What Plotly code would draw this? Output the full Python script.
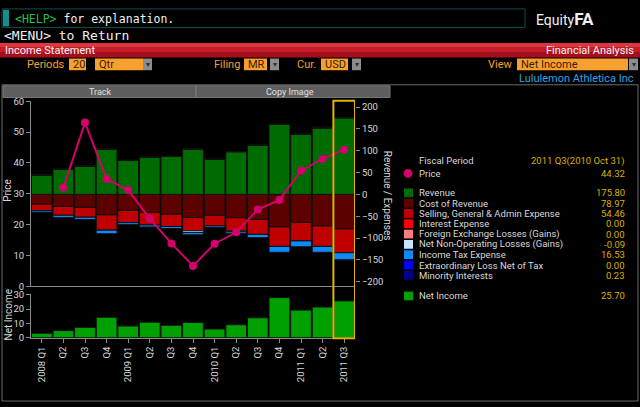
import plotly.graph_objects as go

# --- data (USD millions, fiscal quarters) ---
quarters = ["2008 Q1", "Q2", "Q3", "Q4", "2009 Q1", "Q2", "Q3", "Q4",
            "2010 Q1", "Q2", "Q3", "Q4", "2011 Q1", "Q2", "2011 Q3"]
revenue = [44.6, 58.0, 65.4, 104.0, 78.0, 85.4, 86.9, 104.0, 81.7, 98.1, 112.9, 160.5, 138.2, 152.3, 175.80]
cost_rev = [22.3, 27.5, 29.7, 46.8, 36.4, 40.9, 45.3, 52.8, 47.6, 53.5, 57.2, 74.3, 63.9, 72.1, 78.97]
sga = [14.9, 20.1, 22.3, 34.9, 28.2, 29.0, 28.2, 30.5, 24.5, 29.7, 34.2, 44.6, 42.4, 46.8, 54.46]
interest = [0] * 15
fx_loss = [0] * 15
non_oper = [0, 0, 0, 0, 0, 0, 0, 4.0, 0, 2.2, 0, 0, 0, -1.5, -0.09]
inc_tax = [3.4, 5.2, 5.2, 8.2, 4.5, 4.5, 4.5, 5.2, 3.7, 3.7, 7.4, 13.4, 13.4, 13.4, 16.53]
extraord = [0] * 15
minority = [0] * 14 + [0.23]
net_income = [3.2, 5.0, 7.3, 14.3, 8.2, 10.9, 8.7, 10.7, 6.1, 9.1, 13.9, 28.0, 19.3, 21.4, 25.70]
price = [None, 32.0, 53.1, 34.8, 31.2, 21.9, 13.9, 6.6, 13.8, 17.5, 24.9, 28.0, 37.5, 41.3, 44.32]

legend_rows = [
    ("Revenue", "#006b00", "175.80"),
    ("Cost of Revenue", "#5c0000", "78.97"),
    ("Selling, General & Admin Expense", "#c00000", "54.46"),
    ("Interest Expense", "#ff0000", "0.00"),
    ("Foreign Exchange Losses (Gains)", "#ff7a7a", "0.00"),
    ("Net Non-Operating Losses (Gains)", "#c8e4ff", "-0.09"),
    ("Income Tax Expense", "#0a8cff", "16.53"),
    ("Extraordinary Loss Net of Tax", "#0000ff", "0.00"),
    ("Minority Interests", "#00008c", "0.23"),
]

W, H = 640, 407
FONT = "Roboto, Liberation Sans, sans-serif"
MONO = "DejaVu Sans Mono, Liberation Mono, monospace"
GOLD = "#dcb000"
ORANGE = "#f7a030"
TXT = "#d8d8d8"


def px(x):
    return x / W


def py(y):
    return 1 - y / H


idx = list(range(len(quarters)))
fig = go.Figure()

# stacked revenue / expense bars (expenses drawn downward)
series = [("Revenue", revenue, 1)] + [
    (name, vals, -1) for (name, _, _), vals in zip(
        legend_rows[1:], [cost_rev, sga, interest, fx_loss, non_oper, inc_tax, extraord, minority])
]
colors = {n: c for n, c, _ in legend_rows}
for name, vals, sign in series:
    fig.add_trace(go.Bar(
        x=idx, y=[sign * v for v in vals], name=name,
        marker=dict(color=colors[name], line=dict(color="#101010", width=1)),
        xaxis="x", yaxis="y", showlegend=False, hoverinfo="skip"))

fig.add_trace(go.Scatter(
    x=idx, y=price, mode="lines+markers", name="Price",
    line=dict(color="#d4006c", width=2), marker=dict(color="#d4006c", size=8),
    xaxis="x", yaxis="y2", showlegend=False, connectgaps=False))

fig.add_trace(go.Bar(
    x=idx, y=net_income, name="Net Income",
    marker=dict(color="#00a000", line=dict(color="#101010", width=1)),
    xaxis="x2", yaxis="y3", showlegend=False))

axis_common = dict(showgrid=False, zeroline=False, color="#a0a0a0",
                   tickfont=dict(family=FONT, size=9.5, color=TXT),
                   linecolor="#8a8a8a", ticks="outside", ticklen=4, tickcolor="#8a8a8a")

fig.update_layout(
    width=W, height=H, margin=dict(l=0, r=0, t=0, b=0),
    paper_bgcolor="black", plot_bgcolor="black",
    barmode="relative", bargap=0.04,
    font=dict(family=FONT, color=TXT, size=10),
    xaxis=dict(domain=[px(31), px(355)], range=[-0.5, 14.5], showticklabels=False,
               showline=True, showgrid=False, zeroline=False, linecolor="#8a8a8a", ticks=""),
    yaxis=dict(domain=[py(288), py(98)], range=[-210, 213], side="right",
               tickvals=list(range(-200, 201, 50)), showline=False, **axis_common),
    yaxis2=dict(domain=[py(288), py(98)], range=[0, 60], overlaying="y", side="left",
                anchor="x", tickvals=list(range(0, 61, 10)), showline=True, **axis_common),
    xaxis2=dict(domain=[px(31), px(355)], range=[-0.5, 14.5], anchor="y3",
                tickvals=idx, ticktext=quarters, tickangle=-90, showline=True,
                **axis_common),
    yaxis3=dict(domain=[py(341), py(296)], range=[0, 30.5], anchor="x2",
                tickvals=[0, 10, 20, 30], showline=True, **axis_common),
)

shapes = []
ann = []


def rect(x0, y0, x1, y1, fill, line=None, lw=1):
    shapes.append(dict(type="rect", xref="paper", yref="paper",
                       x0=px(x0), x1=px(x1), y0=py(y1), y1=py(y0),
                       fillcolor=fill, line=dict(color=line or fill, width=lw if line else 0),
                       layer="below"))


def text(x, y, s, color=TXT, size=11, anchor="left", family=FONT, angle=0):
    ann.append(dict(x=px(x), y=py(y), xref="paper", yref="paper", text=s, showarrow=False,
                    xanchor=anchor, yanchor="middle", textangle=angle,
                    font=dict(family=family, size=size, color=color)))


# command line row
rect(2, 3, 525, 22, "black", "#0d4f55", 1)
rect(3, 4, 9, 21, "#178c8c")
text(13, 13, "<span style='color:#21c04a'>&lt;HELP&gt;</span> for explanation.",
     color="#f0f0f0", size=11.5, family=MONO)
text(534, 13, "Equity<b style='font-size:17px'>FA</b>", color="#f0f0f0", size=14)
text(2, 30, "&lt;MENU&gt; to Return", color="#f0f0f0", size=13, family=MONO)

# red title bar
rect(0, 38, 640, 43, "#e0343e")
rect(0, 43, 640, 48, "#c81c2a")
rect(0, 48, 640, 53, "#a60e1c")
text(3, 46, "Income Statement", color="#f4f4f4", size=11)
text(636, 46, "Financial Analysis", color="#f4f4f4", size=11, anchor="right")

# option row
text(67, 60, "Periods", color=ORANGE, size=11, anchor="right")
for x0, x1, lab in [(69, 86, "20"), (95, 143, "Qtr"), (244, 267, "MR"), (321, 348, "USD"), (517, 628, "Net Income")]:
    rect(x0, 54, x1, 66, ORANGE)
    text(x0 + 2, 60, lab, color="#3a1c00", size=11)
for x0 in [143, 270, 352, 629]:
    rect(x0, 54, x0 + 9, 66, "#8c8c8c")
    text(x0 + 4.5, 60, "▾", color="#303030", size=8, anchor="center")
text(242, 60, "Filing", color=ORANGE, size=11, anchor="right")
text(318, 60, "Cur.", color=ORANGE, size=11, anchor="right")
text(515, 60, "View", color=ORANGE, size=11, anchor="right")
text(636, 74, "Lululemon Athletica Inc", color="#2aa4e4", size=11, anchor="right")

# chart panel
rect(2, 81, 638, 406, "black", "#6a6a6a", 1)
rect(3, 82, 196, 94, "#5e5e5e", "#7a7a7a", 1)
rect(196, 82, 390, 94, "#5e5e5e", "#7a7a7a", 1)
text(100, 88, "Track", color="#e0e0e0", size=9, anchor="center")
text(290, 88, "Copy Image", color="#e0e0e0", size=9, anchor="center")

# axis titles
text(8, 190, "Price", size=10, anchor="center", angle=-90)
text(8, 318, "Net Income", size=10, anchor="center", angle=-90)
text(387, 195, "Revenue / Expenses", size=10, anchor="center", angle=90)

# selected period highlight
shapes.append(dict(type="rect", xref="x", yref="paper", x0=13.5, x1=14.5,
                   y0=py(341.5), y1=py(97.5), line=dict(color="#e0b400", width=2),
                   fillcolor="rgba(0,0,0,0)", layer="above"))

# side legend
LS = 9.5
text(417, 159, "Fiscal Period", size=LS)
text(627, 159, "2011 Q3(2010 Oct 31)", color=GOLD, size=LS, anchor="right")
shapes.append(dict(type="circle", xref="paper", yref="paper",
                   x0=px(403.5), x1=px(412.5), y0=py(176.5), y1=py(167.5),
                   fillcolor="#d4006c", line=dict(width=0)))
text(417, 172, "Price", size=LS)
text(627, 172, "44.32", color=GOLD, size=LS, anchor="right")
for i, (name, col, val) in enumerate(legend_rows):
    yy = 192 + i * 10.6
    rect(404, yy - 4.5, 413, yy + 4.5, col)
    text(417, yy, name, size=LS)
    text(627, yy, val, color=GOLD, size=LS, anchor="right")
rect(404, 293.5, 413, 302.5, "#00a000")
text(417, 298, "Net Income", size=LS)
text(627, 298, "25.70", color=GOLD, size=LS, anchor="right")

fig.update_layout(shapes=shapes, annotations=ann)
fig.write_html("out.html", config={"displayModeBar": False},
               post_script="document.body.style.margin='0';document.body.style.padding='0';")
